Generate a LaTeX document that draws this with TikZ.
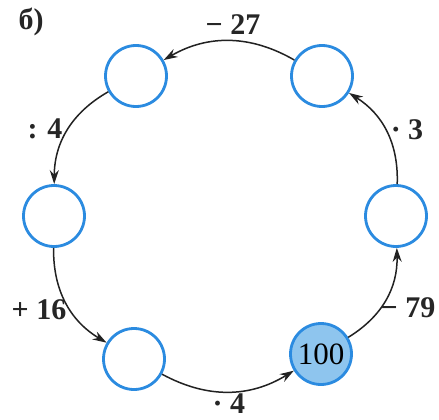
\documentclass[tikz,border=0pt]{standalone}
\usepackage{fontspec}
\setmainfont{Liberation Serif}
\usetikzlibrary{arrows.meta}
\definecolor{ringblue}{HTML}{2B8BE0}
\definecolor{fillblue}{HTML}{8EC5EE}
\definecolor{arrowgray}{HTML}{222222}
\begin{document}
\begin{tikzpicture}[x=1pt,y=-1pt,
  ring/.style={circle,draw=ringblue,line width=2.8pt,minimum size=61pt,inner sep=0pt,fill=white},
  startring/.style={ring,fill=fillblue,font=\fontsize{31}{34}\selectfont},
  oplabel/.style={font=\fontsize{30}{34}\selectfont\bfseries,inner sep=0pt,text=black!85},
  flow/.style={draw=arrowgray,line width=1.5pt,-{Stealth[length=14pt,width=9pt]},bend right=30}]
\useasboundingbox (0,0) rectangle (439,420);
\fill[white] (0,0) rectangle (439,420);
\node[ring] (tl) at (136,76) {};
\node[ring] (tr) at (322,76) {};
\node[ring] (ml) at (54,216) {};
\node[ring] (mr) at (396,216) {};
\node[ring] (bl) at (134,359) {};
\node[startring] (br) at (321,354) {100};
\node[oplabel] (lab) at (31,22) {б)};
\draw[flow] (br) to (mr);
\draw[flow] (mr) to (tr);
\draw[flow] (tr) to (tl);
\draw[flow] (tl) to (ml);
\draw[flow] (ml) to (bl);
\draw[flow] (bl) to (br);
\node[oplabel] (l1) at (408,308) {− 79};
\node[oplabel] (l2) at (407,130) {· 3};
\node[oplabel] (l3) at (233,25) {− 27};
\node[oplabel] (l4) at (45,129) {: 4};
\node[oplabel] (l5) at (39,310) {+ 16};
\node[oplabel] (l6) at (229,404) {· 4};
\end{tikzpicture}
\end{document}
